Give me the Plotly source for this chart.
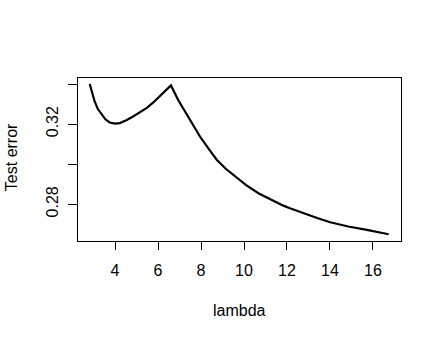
import plotly.graph_objects as go

# Test error as a function of the regularisation parameter lambda
lam = [2.82, 2.95, 3.05, 3.20, 3.37, 3.55, 3.75, 4.00, 4.22, 4.50, 4.84, 5.15,
       5.46, 5.78, 6.08, 6.35, 6.60, 6.95, 7.33, 7.65, 7.95, 8.35, 8.73, 9.15,
       9.58, 10.10, 10.67, 11.21, 11.83, 12.14, 12.77, 13.40, 14.01, 14.85, 15.72,
       16.25, 16.73]
err = [0.3400, 0.3352, 0.3313, 0.3275, 0.3247, 0.3224, 0.3208, 0.3202, 0.3205, 0.3218, 0.3238, 0.3258,
       0.3280, 0.3308, 0.3338, 0.3366, 0.3393, 0.3318, 0.3247, 0.3190, 0.3138, 0.3077, 0.3022, 0.2977,
       0.2938, 0.2895, 0.2855, 0.2825, 0.2793, 0.2780, 0.2755, 0.2731, 0.2710, 0.2689, 0.2672,
       0.2660, 0.2650]

x_ticks = [4, 6, 8, 10, 12, 14, 16]
y_ticks = [0.28, 0.30, 0.32, 0.34]
y_tick_text = ["0.28", "", "0.32", ""]

FONT = "Liberation Sans, Arial, sans-serif"

fig = go.Figure(go.Scatter(x=lam, y=err, mode="lines",
                           line=dict(color="black", width=2.2)))

fig.update_layout(
    width=441, height=339,
    margin=dict(l=78, r=40, t=78, b=98),
    paper_bgcolor="white", plot_bgcolor="white",
    showlegend=False,
    font=dict(family=FONT, size=16, color="black"),
    annotations=[
        dict(text="lambda", xref="paper", yref="paper", x=0.5, y=-0.424,
             xanchor="center", yanchor="middle", showarrow=False,
             font=dict(family=FONT, size=16, color="black")),
        dict(text="Test error", xref="paper", yref="paper", x=-0.2035, y=0.516,
             xanchor="center", yanchor="middle", textangle=-90, showarrow=False,
             font=dict(family=FONT, size=16, color="black")),
    ],
)

fig.update_xaxes(range=[2.275, 17.305], tickvals=x_ticks, ticks="outside", ticklen=8,
                 tickwidth=1, tickcolor="black", showline=True, linecolor="black",
                 linewidth=1, mirror=True, showgrid=False, zeroline=False,
                 ticklabelstandoff=7)
fig.update_yaxes(range=[0.26165, 0.343], tickvals=y_ticks, ticktext=y_tick_text,
                 tickangle=-90, ticks="outside", ticklen=9, tickwidth=1,
                 tickcolor="black", showline=True, linecolor="black", linewidth=1,
                 mirror=True, showgrid=False, zeroline=False, ticklabelstandoff=4)

fig.write_html("out.html")
